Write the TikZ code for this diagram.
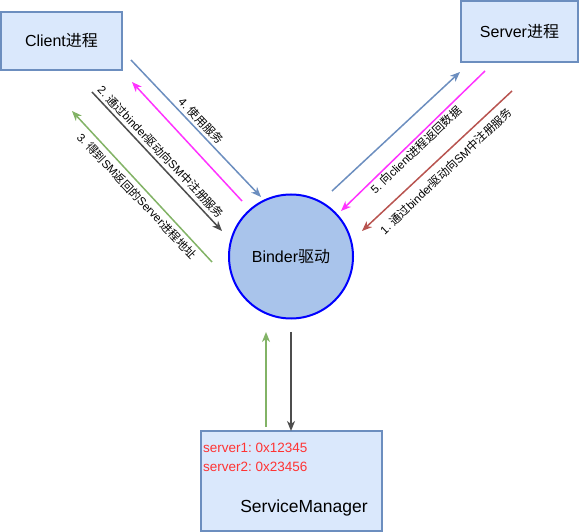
\documentclass[tikz,border=0pt]{standalone}
\usepackage{fontspec}
\setmainfont{Liberation Sans}
\newfontfamily\cjk{Noto Sans CJK SC}
\usetikzlibrary{arrows.meta}
\definecolor{boxfill}{HTML}{DAE8FC}
\definecolor{boxline}{HTML}{6C8EBF}
\definecolor{circfill}{HTML}{A9C4EB}
\definecolor{circline}{HTML}{0000FF}
\definecolor{magentaline}{HTML}{FF33FF}
\definecolor{grayline}{HTML}{4D4D4D}
\definecolor{greenline}{HTML}{82B366}
\definecolor{redline}{HTML}{B85450}
\definecolor{redtext}{HTML}{FF3333}
\frenchspacing
\begin{document}
\begin{tikzpicture}[x=1pt,y=-1pt,
  procbox/.style={draw=boxline,fill=boxfill,line width=1.5pt,inner sep=0pt},
  conn/.style={line width=1.5pt,-{Stealth[length=10pt,width=8pt,inset=3pt]}},
  lbl/.style={font=\fontsize{11.5}{13}\selectfont,inner sep=0pt}]
\useasboundingbox (0,0) rectangle (582,532);
% boxes
\node[procbox,minimum width=121pt,minimum height=58pt] (client) at (61.5,41) {\fontsize{16}{18}\selectfont Client{\cjk 进程}};
\node[procbox,minimum width=117pt,minimum height=61pt] (server) at (519.5,31.5) {\fontsize{16}{18}\selectfont Server{\cjk 进程}};
\node[draw=circline,fill=circfill,line width=2pt,circle,minimum size=124pt,inner sep=0pt] (binder) at (291,256.5) {\fontsize{16}{18}\selectfont Binder{\cjk 驱动}};
\node[procbox,minimum width=181pt,minimum height=100pt] (sm) at (291.5,481) {};
\node[anchor=west,text=redtext,font=\fontsize{13.5}{16}\selectfont,inner sep=0pt] (s1) at (203,448) {server1: 0x12345};
\node[anchor=west,text=redtext,font=\fontsize{13.5}{16}\selectfont,inner sep=0pt] (s2) at (203,467) {server2: 0x23456};
\node[font=\fontsize{17.5}{20}\selectfont,inner sep=0pt] (smlabel) at (304,508) {ServiceManager};
% coordinates
\coordinate (a4s) at (131,60); \coordinate (a4e) at (261,197);
\coordinate (m2s) at (242,201); \coordinate (m2e) at (132,82);
\coordinate (g2s) at (92,92); \coordinate (g2e) at (222,231);
\coordinate (g3s) at (212,262); \coordinate (g3e) at (72,111);
\coordinate (b5s) at (332,191); \coordinate (b5e) at (460,72);
\coordinate (m5s) at (485,71); \coordinate (m5e) at (341,211);
\coordinate (r1s) at (512,91); \coordinate (r1e) at (362,231);
\coordinate (gus) at (266,427); \coordinate (gue) at (266,332);
\coordinate (gds) at (291,332); \coordinate (gde) at (291,431);
% connectors
\draw[conn,boxline] (a4s) -- (a4e);
\draw[conn,magentaline] (m2s) -- (m2e);
\draw[conn,grayline] (g2s) -- (g2e);
\draw[conn,greenline] (g3s) -- (g3e);
\draw[conn,boxline] (b5s) -- (b5e);
\draw[conn,magentaline] (m5s) -- (m5e);
\draw[conn,redline] (r1s) -- (r1e);
\draw[conn,greenline] (gus) -- (gue);
\draw[conn,grayline] (gds) -- (gde);
% labels
\node[lbl,rotate=-46.5] (l4) at (201,121) {4. {\cjk 使用服务}};
\node[lbl,rotate=-46.5] (l2) at (161,152) {2. {\cjk 通过}binder{\cjk 驱动向}SM{\cjk 中注册服务}};
\node[lbl,rotate=-46.5] (l3) at (137,196) {3. {\cjk 得到}SM{\cjk 返回的}Server{\cjk 进程地址}};
\node[lbl,rotate=43.5] (l5) at (416,150) {5. {\cjk 向}client{\cjk 进程返回数据}};
\node[lbl,rotate=43.5] (l1) at (446,171) {1. {\cjk 通过}binder{\cjk 驱动向}SM{\cjk 中注册服务}};
\end{tikzpicture}
\end{document}
